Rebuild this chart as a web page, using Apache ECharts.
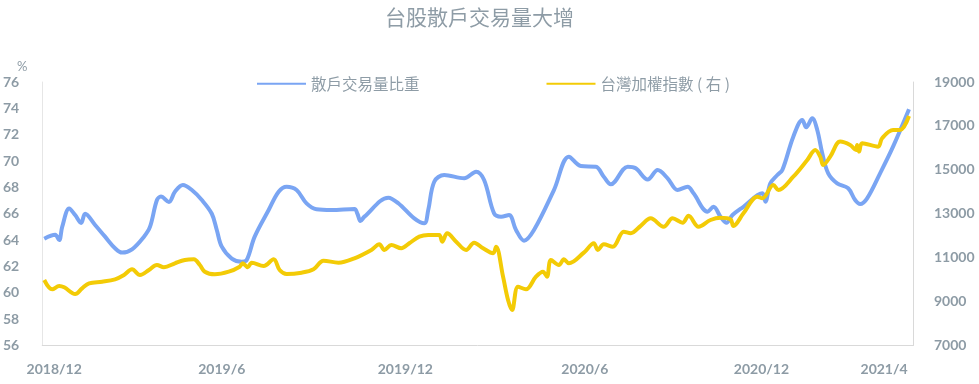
<!DOCTYPE html>
<html>
<head>
<meta charset="utf-8">
<script src="https://cdn.jsdelivr.net/npm/echarts@6/dist/echarts.min.js"></script>
<style>html,body{margin:0;padding:0;background:#fff;}#c{width:979px;height:384px;}</style>
</head>
<body>
<div id="c"></div>
<script>
var chartTitle = '台股散戶交易量大增';
var seriesNames = ['散戶交易量比重', '台灣加權指數 ( 右 )'];
var tickLabels = ['2018/12', '2019/6', '2019/12', '2020/6', '2020/12', '2021/4'];
var tickDates = ['2018-12-17', '2019-06-03', '2019-12-04', '2020-06-01', '2020-11-25', '2021-03-28'];
var axisStart = '2018-12-05', axisEnd = '2021-04-26';

var ratioDates = ['2018-12-07','2018-12-18','2018-12-22','2018-12-25','2019-01-01','2019-01-07','2019-01-13','2019-01-17','2019-01-27','2019-02-06','2019-02-16','2019-02-23','2019-03-05','2019-03-17','2019-03-23','2019-03-30','2019-04-03','2019-04-11','2019-04-17','2019-04-25','2019-05-04','2019-05-14','2019-05-24','2019-05-29','2019-06-03','2019-06-13','2019-06-23','2019-06-28','2019-07-06','2019-07-20','2019-07-30','2019-08-07','2019-08-17','2019-08-27','2019-09-06','2019-09-21','2019-10-14','2019-10-17','2019-10-20','2019-10-24','2019-11-17','2019-11-27','2019-12-13','2019-12-23','2019-12-27','2020-01-02','2020-01-12','2020-02-01','2020-02-13','2020-02-21','2020-03-02','2020-03-09','2020-03-17','2020-03-24','2020-04-01','2020-04-11','2020-05-01','2020-05-16','2020-05-28','2020-06-12','2020-06-20','2020-06-27','2020-07-14','2020-07-22','2020-08-03','2020-08-13','2020-08-23','2020-09-02','2020-09-12','2020-09-18','2020-10-02','2020-10-08','2020-10-15','2020-10-21','2020-10-27','2020-11-07','2020-11-26','2020-11-29','2020-12-04','2020-12-11','2020-12-16','2020-12-27','2021-01-05','2021-01-09','2021-01-15','2021-01-20','2021-01-25','2021-01-31','2021-02-09','2021-02-20','2021-02-27','2021-03-04','2021-03-11','2021-03-24','2021-04-06','2021-04-22'];
var ratioValues = [64.1,64.4,64.0,65.0,66.4,65.9,65.3,66.0,65.15,64.26,63.38,63.05,63.3,64.26,65.0,67.04,67.3,66.9,67.67,68.18,67.8,67.04,66.0,64.77,63.5,62.6,62.36,62.49,64.26,66.28,67.67,68.05,67.8,66.79,66.34,66.28,66.36,66.0,65.45,65.78,67.22,66.8,65.65,65.27,66.28,68.43,68.94,68.69,69.19,68.56,66.03,65.78,65.9,64.77,63.96,64.77,67.8,70.33,69.62,69.57,68.81,68.23,69.57,69.45,68.6,69.32,68.69,67.8,68.05,67.55,66.16,66.53,65.78,65.32,65.9,66.53,67.55,66.92,68.31,68.94,69.32,71.85,73.12,72.56,73.24,72.36,70.59,69.07,68.31,67.93,67.04,66.74,67.17,69.07,71.09,73.93];

var taiexDates = ['2018-12-07','2018-12-15','2018-12-22','2018-12-27','2019-01-07','2019-01-14','2019-01-21','2019-02-03','2019-02-16','2019-02-25','2019-03-05','2019-03-13','2019-03-22','2019-03-30','2019-04-06','2019-04-17','2019-04-27','2019-05-06','2019-05-12','2019-05-17','2019-05-27','2019-06-10','2019-06-21','2019-06-24','2019-06-29','2019-07-03','2019-07-15','2019-07-25','2019-07-31','2019-08-07','2019-08-22','2019-09-03','2019-09-13','2019-09-28','2019-10-14','2019-10-31','2019-11-08','2019-11-13','2019-11-20','2019-11-30','2019-12-08','2019-12-18','2019-12-27','2020-01-07','2020-01-10','2020-01-15','2020-01-24','2020-02-03','2020-02-11','2020-02-20','2020-03-01','2020-03-04','2020-03-11','2020-03-16','2020-03-20','2020-03-26','2020-04-03','2020-04-13','2020-04-20','2020-04-24','2020-04-28','2020-05-06','2020-05-11','2020-05-16','2020-05-31','2020-06-10','2020-06-14','2020-06-20','2020-06-29','2020-07-10','2020-07-17','2020-07-27','2020-08-06','2020-08-19','2020-08-28','2020-09-07','2020-09-13','2020-09-23','2020-10-05','2020-10-15','2020-10-25','2020-10-28','2020-11-07','2020-11-21','2020-11-26','2020-12-07','2020-12-12','2020-12-27','2021-01-10','2021-01-18','2021-01-23','2021-01-26','2021-02-02','2021-02-12','2021-02-22','2021-02-28','2021-03-01','2021-03-03','2021-03-06','2021-03-22','2021-03-26','2021-04-06','2021-04-13','2021-04-22'];
var taiexValues = [9983,9560,9710,9650,9345,9604,9833,9905,10015,10211,10470,10211,10439,10666,10561,10743,10894,10925,10666,10361,10243,10361,10589,10743,10561,10771,10620,10925,10439,10256,10316,10470,10862,10771,10971,11350,11610,11350,11577,11427,11655,11955,12033,12033,11730,12110,11730,11350,11683,11427,11200,11500,10134,9073,8617,9680,9559,10134,10361,10134,10894,10666,10925,10743,11229,11655,11350,11610,11500,12183,12110,12450,12790,12410,12792,12592,12911,12410,12716,12820,12748,12442,13020,13779,13704,14310,14082,14689,15450,15903,15600,15220,15600,16286,16131,15903,16131,15830,16210,16055,16440,16814,16814,17452];

function t(d) { var p = d.split('-'); return Date.UTC(+p[0], +p[1] - 1, +p[2]); }
function pairs(d, v) { return d.map(function (x, i) { return [t(x), v[i]]; }); }
var tickTimes = tickDates.map(t);

var labelColor = '#8d9ba5';
var fontFam = 'Lato, "Noto Sans CJK TC", sans-serif';
var chart = echarts.init(document.getElementById('c'));
chart.setOption({
  backgroundColor: '#ffffff',
  animation: false,
  title: [
    { text: chartTitle, left: 380, top: 2, textStyle: { color: '#8e9ca6', fontSize: 21, fontWeight: 'normal', fontFamily: '"Noto Sans CJK TC", sans-serif' } },
    { text: '%', left: 12, top: 55, textStyle: { color: labelColor, fontSize: 13, fontWeight: 'normal', fontFamily: fontFam } }
  ],
  legend: {
    left: 252, top: 71, itemGap: 127, itemWidth: 49, itemHeight: 2, icon: 'rect',
    textStyle: { color: '#8e9ca6', fontSize: 15.5, fontFamily: '"Noto Sans CJK TC", sans-serif' },
    data: seriesNames
  },
  grid: { left: 40, right: 66, top: 82, bottom: 38.5 },
  xAxis: {
    type: 'value',
    min: t(axisStart), max: t(axisEnd),
    axisLine: { show: true, lineStyle: { color: '#d9d9d9', width: 1 } },
    axisTick: { show: false },
    splitLine: { show: false },
    axisLabel: {
      customValues: tickTimes,
      margin: 17,
      color: labelColor, fontSize: 14, fontWeight: 'bold', fontFamily: fontFam,
      formatter: function (val) {
        var best = 0, bd = Infinity;
        for (var i = 0; i < tickTimes.length; i++) { var d = Math.abs(tickTimes[i] - val); if (d < bd) { bd = d; best = i; } }
        return tickLabels[best];
      }
    }
  },
  yAxis: [
    {
      type: 'value', min: 56, max: 76, interval: 2,
      axisLine: { show: true, lineStyle: { color: '#e6e6e6' } },
      axisTick: { show: false }, splitLine: { show: false },
      axisLabel: { margin: 23, color: labelColor, fontSize: 14, fontWeight: 'bold', fontFamily: fontFam }
    },
    {
      type: 'value', min: 7000, max: 19000, interval: 2000, position: 'right',
      axisLine: { show: true, lineStyle: { color: '#d9d9d9' } },
      axisTick: { show: false }, splitLine: { show: false },
      axisLabel: { margin: 21, color: labelColor, fontSize: 14, fontWeight: 'bold', fontFamily: fontFam,
        formatter: function (v) { return String(v); } }
    }
  ],
  series: [
    {
      name: seriesNames[0], type: 'line', yAxisIndex: 0, smooth: 0.35, showSymbol: false,
      lineStyle: { width: 4, color: '#7aa5f3' }, itemStyle: { color: '#7aa5f3' },
      data: pairs(ratioDates, ratioValues)
    },
    {
      name: seriesNames[1], type: 'line', yAxisIndex: 1, smooth: 0.35, showSymbol: false,
      lineStyle: { width: 4, color: '#f3cb06' }, itemStyle: { color: '#f3cb06' },
      data: pairs(taiexDates, taiexValues)
    }
  ]
});
</script>
</body>
</html>
